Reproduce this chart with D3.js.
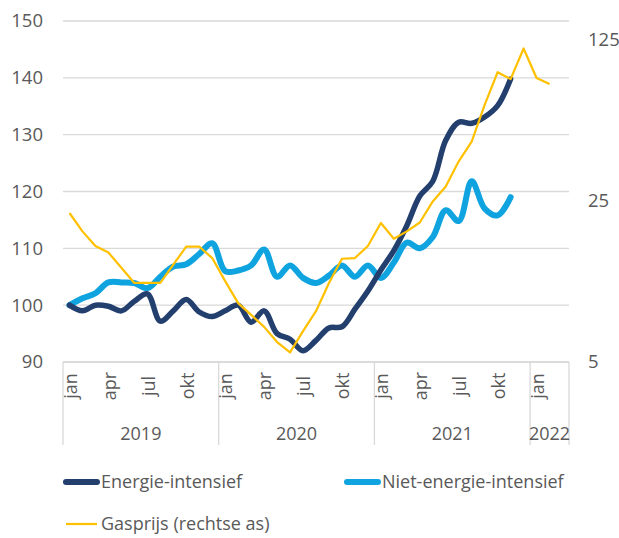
<!DOCTYPE html>
<html>
<head>
<meta charset="utf-8">
<script src="https://cdn.jsdelivr.net/npm/d3@7/dist/d3.min.js"></script>
<style>
  body { margin: 0; background: #fff; }
  text { font-family: "Open Sans", "Noto Sans", sans-serif; fill: #595959; }
</style>
</head>
<body>
<div id="chart"></div>
<script>
// maanden en jaren
var monthNames = ["jan", "feb", "mrt", "apr", "mei", "jun", "jul", "aug", "sep", "okt", "nov", "dec"];
var years = ["2019", "2020", "2021", "2022"];
var monthsPerYear = [12, 12, 12, 3];
var tickMonths = ["jan", "apr", "jul", "okt"];

// index (jan 2019 = 100)
var energie = [100, 99, 100, 99.8, 99, 100.7, 102, 97.2, 99, 101, 98.8, 98,
               99, 100, 97, 99, 95, 94, 92, 93.8, 96, 96.2, 99.3, 102.5,
               106.2, 109.6, 114, 119.2, 121.8, 129, 132.2, 132, 133.1, 135.1, 139.8];
var nietEnergie = [100, 101.2, 102.1, 104, 104, 103.9, 103, 105, 106.8, 107.2, 109, 110.9,
                   106, 106.1, 107, 109.8, 105, 107, 104.8, 103.9, 105.2, 107, 105, 107,
                   104.8, 107.5, 111, 110, 112, 116.7, 114.8, 121.8, 117, 115.8, 119];
// gasprijs (rechtse as)
var gasprijs = [22.1, 18.4, 15.9, 14.9, 12.8, 11, 11, 11, 13.2, 15.8, 15.8, 14.1,
                11.2, 9.0, 8.0, 7.1, 6.1, 5.5, 6.8, 8.3, 11, 14, 14.1, 15.9,
                20, 17.1, 18.4, 20.1, 24.8, 28.8, 37, 45, 65, 90, 84, 114, 85, 80];

var leftTicks = [90, 100, 110, 120, 130, 140, 150];
var rightTicks = [5, 25, 125];

var categories = [];
years.forEach(function(y, yi) {
    for (var m = 0; m < monthsPerYear[yi]; m++) categories.push(monthNames[m] + " " + y);
});

var width = 619, height = 538;
var plot = {left: 63, right: 569, top: 21, bottom: 362};

var svg = d3.select("#chart").append("svg")
    .attr("width", width)
    .attr("height", height);

var x = d3.scaleBand()
    .domain(categories)
    .range([plot.left, plot.right]);

var y = d3.scaleLinear()
    .domain([90, 150])
    .range([plot.bottom, plot.top]);

var y2 = d3.scaleLog()
    .base(5)
    .domain([5, 150])
    .range([plot.bottom, plot.top]);

function cx(i) { return x(categories[i]) + x.bandwidth() / 2; }

// rasterlijnen
svg.append("g")
    .attr("class", "grid")
    .selectAll("line")
    .data(leftTicks)
    .enter().append("line")
    .attr("x1", plot.left)
    .attr("x2", plot.right)
    .attr("y1", function(d) { return y(d); })
    .attr("y2", function(d) { return y(d); })
    .attr("stroke", "#d9d9d9")
    .attr("stroke-width", 1.3);

// linker as
svg.append("g")
    .attr("transform", "translate(" + plot.left + ",0)")
    .call(d3.axisLeft(y).tickValues(leftTicks).tickSize(0).tickPadding(20))
    .call(function(g) { g.select(".domain").remove(); })
    .selectAll("text")
    .style("font-size", "18.5px")
    .attr("fill", "#595959");

// rechter as
svg.append("g")
    .attr("transform", "translate(" + plot.right + ",0)")
    .call(d3.axisRight(y2).tickValues(rightTicks).tickFormat(d3.format("d")).tickSize(0).tickPadding(19))
    .call(function(g) { g.select(".domain").remove(); })
    .selectAll("text")
    .style("font-size", "18.5px")
    .attr("fill", "#595959");

// x-as met maanden en jaren
var xAxis = svg.append("g").attr("class", "xaxis");

var yearStarts = [];
var acc = 0;
monthsPerYear.forEach(function(n) { yearStarts.push(acc); acc += n; });

xAxis.append("line")
    .attr("x1", plot.left).attr("x2", plot.right)
    .attr("y1", plot.bottom).attr("y2", plot.bottom)
    .attr("stroke", "#d9d9d9").attr("stroke-width", 1.3);

var sepX = yearStarts.map(function(s) { return x(categories[s]); }).concat([plot.right]);
xAxis.selectAll(".sep")
    .data(sepX)
    .enter().append("line")
    .attr("x1", function(d) { return d; })
    .attr("x2", function(d) { return d; })
    .attr("y1", plot.bottom)
    .attr("y2", 445)
    .attr("stroke", "#d9d9d9")
    .attr("stroke-width", 1.3);

var tickIdx = categories.map(function(c, i) { return i; })
    .filter(function(i) { return tickMonths.indexOf(categories[i].split(" ")[0]) >= 0; });

xAxis.selectAll(".month")
    .data(tickIdx)
    .enter().append("text")
    .attr("transform", function(i) { return "translate(" + (cx(i) + 1) + ",386) rotate(-90)"; })
    .attr("text-anchor", "middle")
    .attr("dy", "0.35em")
    .style("font-size", "18px")
    .text(function(i) { return categories[i].split(" ")[0]; });

xAxis.selectAll(".year")
    .data(years)
    .enter().append("text")
    .attr("x", function(d, i) { return (sepX[i] + sepX[i + 1]) / 2; })
    .attr("y", 440)
    .attr("text-anchor", "middle")
    .style("font-size", "18px")
    .text(function(d) { return d; });

// lijnen
var smooth = d3.line()
    .x(function(d, i) { return cx(i); })
    .y(function(d) { return y(d); })
    .curve(d3.curveCatmullRom.alpha(0.5));

var gasLine = d3.line()
    .x(function(d, i) { return cx(i); })
    .y(function(d) { return y2(d); });

svg.append("path")
    .datum(nietEnergie)
    .attr("d", smooth)
    .attr("fill", "none")
    .attr("stroke", "#0fa3df")
    .attr("stroke-width", 6)
    .attr("stroke-linecap", "round")
    .attr("stroke-linejoin", "round");

svg.append("path")
    .datum(energie)
    .attr("d", smooth)
    .attr("fill", "none")
    .attr("stroke", "#233f6e")
    .attr("stroke-width", 5.5)
    .attr("stroke-linecap", "round")
    .attr("stroke-linejoin", "round");

svg.append("path")
    .datum(gasprijs)
    .attr("d", gasLine)
    .attr("fill", "none")
    .attr("stroke", "#ffc000")
    .attr("stroke-width", 2.2)
    .attr("stroke-linejoin", "round");

// legenda
var legend = [
    {name: "Energie-intensief", color: "#233f6e", w: 6, x: 66, y: 482},
    {name: "Niet-energie-intensief", color: "#0fa3df", w: 6, x: 347, y: 482},
    {name: "Gasprijs (rechtse as)", color: "#ffc000", w: 2.2, x: 66, y: 524}
];

var lg = svg.append("g").selectAll("g")
    .data(legend)
    .enter().append("g")
    .attr("transform", function(d) { return "translate(" + d.x + "," + d.y + ")"; });

lg.append("line")
    .attr("x1", 0).attr("x2", 31)
    .attr("stroke", function(d) { return d.color; })
    .attr("stroke-width", function(d) { return d.w; })
    .attr("stroke-linecap", function(d) { return d.w > 3 ? "round" : "butt"; });

lg.append("text")
    .attr("x", 35)
    .attr("dy", "0.35em")
    .style("font-size", "18px")
    .text(function(d) { return d.name; });
</script>
</body>
</html>
